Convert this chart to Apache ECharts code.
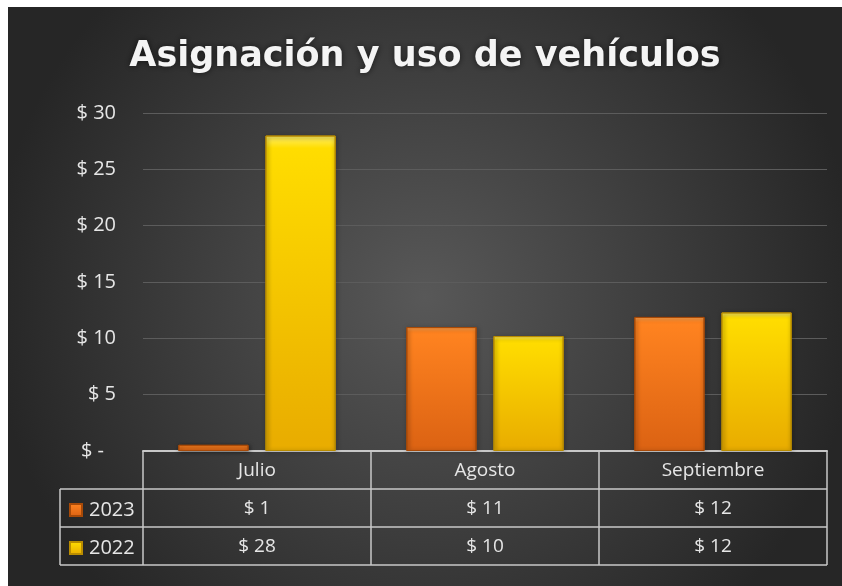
<!DOCTYPE html>
<html>
<head>
<meta charset="utf-8">
<script src="https://cdn.jsdelivr.net/npm/echarts@6/dist/echarts.min.js"></script>
<style>
  html, body { margin: 0; padding: 0; background: #fff; }
  #main { position: absolute; left: 8px; top: 7px; width: 834px; height: 579px; }
</style>
</head>
<body>
<div id="main"></div>
<script>
// datos
const months = ['Julio', 'Agosto', 'Septiembre'];
const years = ['2023', '2022'];
const values2023 = [0.55, 11.0, 11.9];
const values2022 = [28.0, 10.2, 12.3];
const yTicks = [0, 5, 10, 15, 20, 25, 30];

const chart = echarts.init(document.getElementById('main'));

// posicion de la grafica (en px del contenedor)
const gLeft = 135, gRight = 15, gTop = 106, gBottom = 135;
const W = 834, H = 579;
const rowH = 38;
const axisY = H - gBottom;
const lineColor = '#c8c8c8';

function money(v) {
  return '$ ' + Math.round(v);
}

function barColor(top, mid, bottom) {
  return {
    type: 'linear', x: 0, y: 0, x2: 0, y2: 1,
    colorStops: [
      { offset: 0, color: top },
      { offset: 0.04, color: mid },
      { offset: 0.97, color: bottom },
      { offset: 1, color: bottom }
    ]
  };
}

const orange = barColor('#ffa24d', '#ff8320', '#dc6313');
const yellow = barColor('#fff06a', '#ffdd00', '#e9ad00');

// lineas de la tabla
const tableLines = [];
for (let i = 1; i <= 3; i++) {
  tableLines.push({
    type: 'line',
    shape: { x1: gLeft, y1: axisY + rowH * i, x2: W - gRight, y2: axisY + rowH * i },
    style: { stroke: lineColor, lineWidth: 1.5 }
  });
  tableLines.push({
    type: 'line',
    shape: { x1: 52, y1: axisY + rowH * i, x2: gLeft, y2: axisY + rowH * i },
    style: { stroke: lineColor, lineWidth: 1.5 }
  });
}
tableLines.push({
  type: 'line',
  shape: { x1: 52, y1: axisY + rowH, x2: 52, y2: axisY + rowH * 3 },
  style: { stroke: lineColor, lineWidth: 1.5 }
});

var option = {
  backgroundColor: {
    type: 'radial', x: 0.5, y: 0.5, r: 0.75,
    colorStops: [
      { offset: 0, color: '#585858' },
      { offset: 1, color: '#262626' }
    ]
  },
  title: {
    text: 'Asignación y uso de vehículos',
    left: 'center',
    top: 27,
    padding: [5, 5, 5, 15],
    textStyle: {
      color: '#f4f4f4',
      fontFamily: 'DejaVu Sans',
      fontWeight: 'bold',
      fontSize: 35,
      textShadowColor: 'rgba(0,0,0,0.6)',
      textShadowBlur: 6
    }
  },
  legend: {
    data: years,
    orient: 'vertical',
    left: 61,
    top: axisY + rowH + 2,
    padding: 0,
    itemGap: 0,
    itemWidth: 12,
    itemHeight: 12,
    icon: 'rect',
    textStyle: { color: '#e6e6e6', fontSize: 20, fontFamily: 'Open Sans', lineHeight: 38, padding: [0, 0, 0, 2] }
  },
  grid: { left: gLeft, right: gRight, top: gTop, bottom: gBottom },
  xAxis: {
    type: 'category',
    data: months,
    axisLine: { lineStyle: { color: lineColor, width: 2 } },
    axisTick: { show: true, length: rowH * 3, lineStyle: { color: lineColor, width: 1.5 } },
    axisLabel: {
      margin: 1,
      formatter: function (value, idx) {
        return '{c|' + value + '}\n{c|' + money(values2023[idx]) + '}\n{c|' + money(values2022[idx]) + '}';
      },
      rich: {
        c: { color: '#e6e6e6', fontSize: 19, fontFamily: 'Open Sans', lineHeight: 38, height: 38 }
      }
    }
  },
  yAxis: {
    type: 'value',
    min: yTicks[0],
    max: yTicks[yTicks.length - 1],
    interval: 5,
    axisLine: { show: false },
    axisTick: { show: false },
    splitLine: { lineStyle: { color: '#5c5c5c', width: 1 } },
    axisLabel: {
      margin: 27,
      color: '#e6e6e6',
      fontSize: 20,
      fontFamily: 'Open Sans',
      formatter: function (v) {
        return v === 0 ? '{z|$ -}' : '$ ' + v;
      },
      rich: {
        z: { color: '#e6e6e6', fontSize: 20, fontFamily: 'Open Sans', padding: [0, 12, 0, 0] }
      }
    }
  },
  graphic: tableLines,
  series: [
    {
      name: years[0],
      type: 'bar',
      data: values2023,
      barCategoryGap: '31%',
      barGap: '24%',
      itemStyle: { color: orange, borderColor: '#a84a08', borderWidth: 1,
        shadowColor: 'rgba(0,0,0,0.5)', shadowBlur: 4, shadowOffsetX: 1, shadowOffsetY: 1 }
    },
    {
      name: years[1],
      type: 'bar',
      data: values2022,
      barCategoryGap: '31%',
      barGap: '24%',
      itemStyle: { color: yellow, borderColor: '#b98c00', borderWidth: 1,
        shadowColor: 'rgba(0,0,0,0.5)', shadowBlur: 4, shadowOffsetX: 1, shadowOffsetY: 1 }
    }
  ]
};

chart.setOption(option);
</script>
</body>
</html>
